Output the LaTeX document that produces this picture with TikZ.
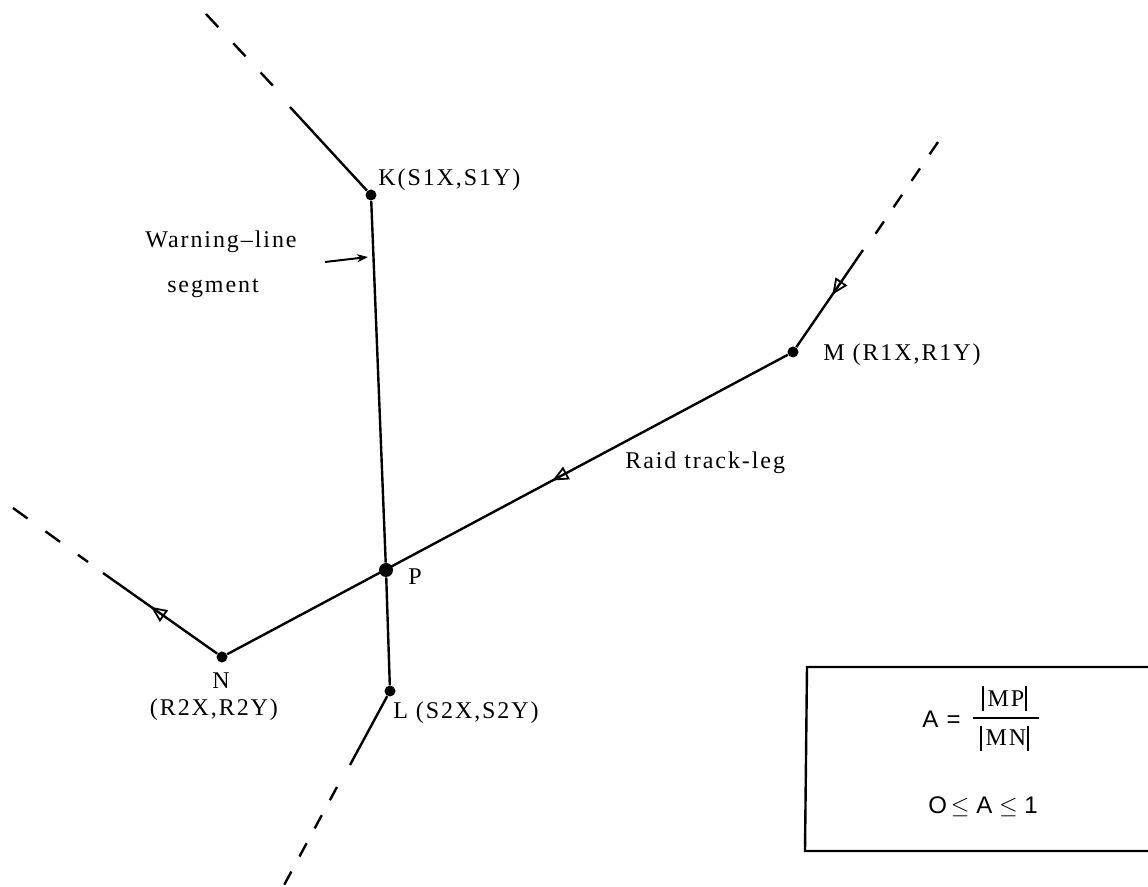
\documentclass[tikz,border=0pt]{standalone}
\usepackage{fontspec}
\setmainfont{Liberation Serif}
\newfontfamily\lab[LetterSpace=8]{Liberation Serif}
\newfontfamily\sansA[LetterSpace=6]{Liberation Sans}
\usetikzlibrary{arrows.meta,decorations.markings}
\tikzset{
  track/.style={line width=1.2pt},
  dashK/.style={line width=1.2pt, dash pattern=on 9pt off 11pt},
  dashM/.style={line width=1.2pt, dash pattern=on 7.5pt off 8.5pt},
  dotnode/.style={circle, fill=black, inner sep=0pt, minimum size=5.5pt},
  bigdot/.style={dotnode, minimum size=7pt},
  lbl/.style={font=\lab\fontsize{12}{14}\selectfont, inner sep=0pt},
  absbar/.style={line width=1.1pt},
  openarrow/.style={postaction=decorate, decoration={markings,
     mark=at position #1 with {\arrow{Triangle[open,length=8pt,width=7pt,line width=0.9pt]}}}}
}
\begin{document}
\begin{tikzpicture}[x=0.5pt,y=-0.5pt]
\useasboundingbox (0,0) rectangle (1148,887);
\clip (0,0) rectangle (1148,887);
% points
\node[dotnode] (K) at (371,195) {};
\node[dotnode] (L) at (390,691) {};
\node[bigdot] (P) at (386,570) {};
\node[dotnode] (M) at (793,352) {};
\node[dotnode] (N) at (222,657) {};
% helper coordinates
\coordinate (Ks) at (290,107);
\coordinate (Kd1) at (206,14);
\coordinate (Kd2) at (276,89);
\coordinate (Ms) at (863,250);
\coordinate (Md1) at (938,142);
\coordinate (Md2) at (874,236);
\coordinate (Ns) at (103,573);
\coordinate (Nd1) at (13,508);
\coordinate (Nd2) at (88,562);
\coordinate (Ls) at (350,765);
\coordinate (Ld1) at (337,787);
\coordinate (Ld2) at (276,900);
\coordinate (wa) at (325,262);
\coordinate (wb) at (368,257);
% warning-line segment
\draw[track] (K) -- (P) -- (L);
\draw[track] (K) -- (Ks);
\draw[dashK] (Kd1) -- (Kd2);
\draw[track] (L) -- (Ls);
\draw[dashM] (Ld1) -- (Ld2);
% raid track
\draw[track, openarrow=0.42] (M) -- (N);
\draw[track, openarrow=0.46] (Ms) -- (M);
\draw[dashM] (Md1) -- (Md2);
\draw[track, openarrow=0.58] (N) -- (Ns);
\draw[dashK] (Nd1) -- (Nd2);
% pointer arrow
\draw[line width=1pt, -{Stealth[length=5.5pt,width=4pt]}] (wa) -- (wb);
% labels
\node[lbl, anchor=west] (Klab) at (378,180) {K(S1X,S1Y)};
\node[lbl] (wl1) at (221,242) {Warning\textendash line};
\node[lbl] (wl2) at (213,288) {segment};
\node[lbl, anchor=west] (Mlab) at (823,355) {M (R1X,R1Y)};
\node[lbl, anchor=west] (rt) at (625,463) {Raid track-leg};
\node[lbl, anchor=west] (Plab) at (408,577) {P};
\node[lbl] (Nlab) at (221,681) {N};
\node[lbl] (Nc) at (214,710) {(R2X,R2Y)};
\node[lbl, anchor=west] (Llab) at (393,713) {L (S2X,S2Y)};
% formula box
\draw[line width=1.2pt] (1160,667) -- (807,667) -- (805,851) -- (1160,851);
\node[font=\sansA\fontsize{12}{14}\selectfont, inner sep=0pt, anchor=west] (eqA) at (922,719) {A =};
\node[lbl] (num) at (1006,699) {MP};
\node[lbl] (den) at (1006,738) {MN};
\draw[line width=0.9pt] (973,718) -- (1039,718);
\draw[absbar] ([xshift=-2pt,yshift=2.5pt]num.north west) -- ([xshift=-2pt,yshift=-2pt]num.south west);
\draw[absbar] ([xshift=0.5pt,yshift=2.5pt]num.north east) -- ([xshift=0.5pt,yshift=-2pt]num.south east);
\draw[absbar] ([xshift=-2pt,yshift=2pt]den.north west) -- ([xshift=-2pt,yshift=-2.5pt]den.south west);
\draw[absbar] ([xshift=0.5pt,yshift=2pt]den.north east) -- ([xshift=0.5pt,yshift=-2.5pt]den.south east);
\node[font=\sansA\fontsize{12}{14}\selectfont, inner sep=0pt] (ineq) at (983,807)
  {O$\,\leq\;$A$\;\leq\;$1};
\end{tikzpicture}
\end{document}
